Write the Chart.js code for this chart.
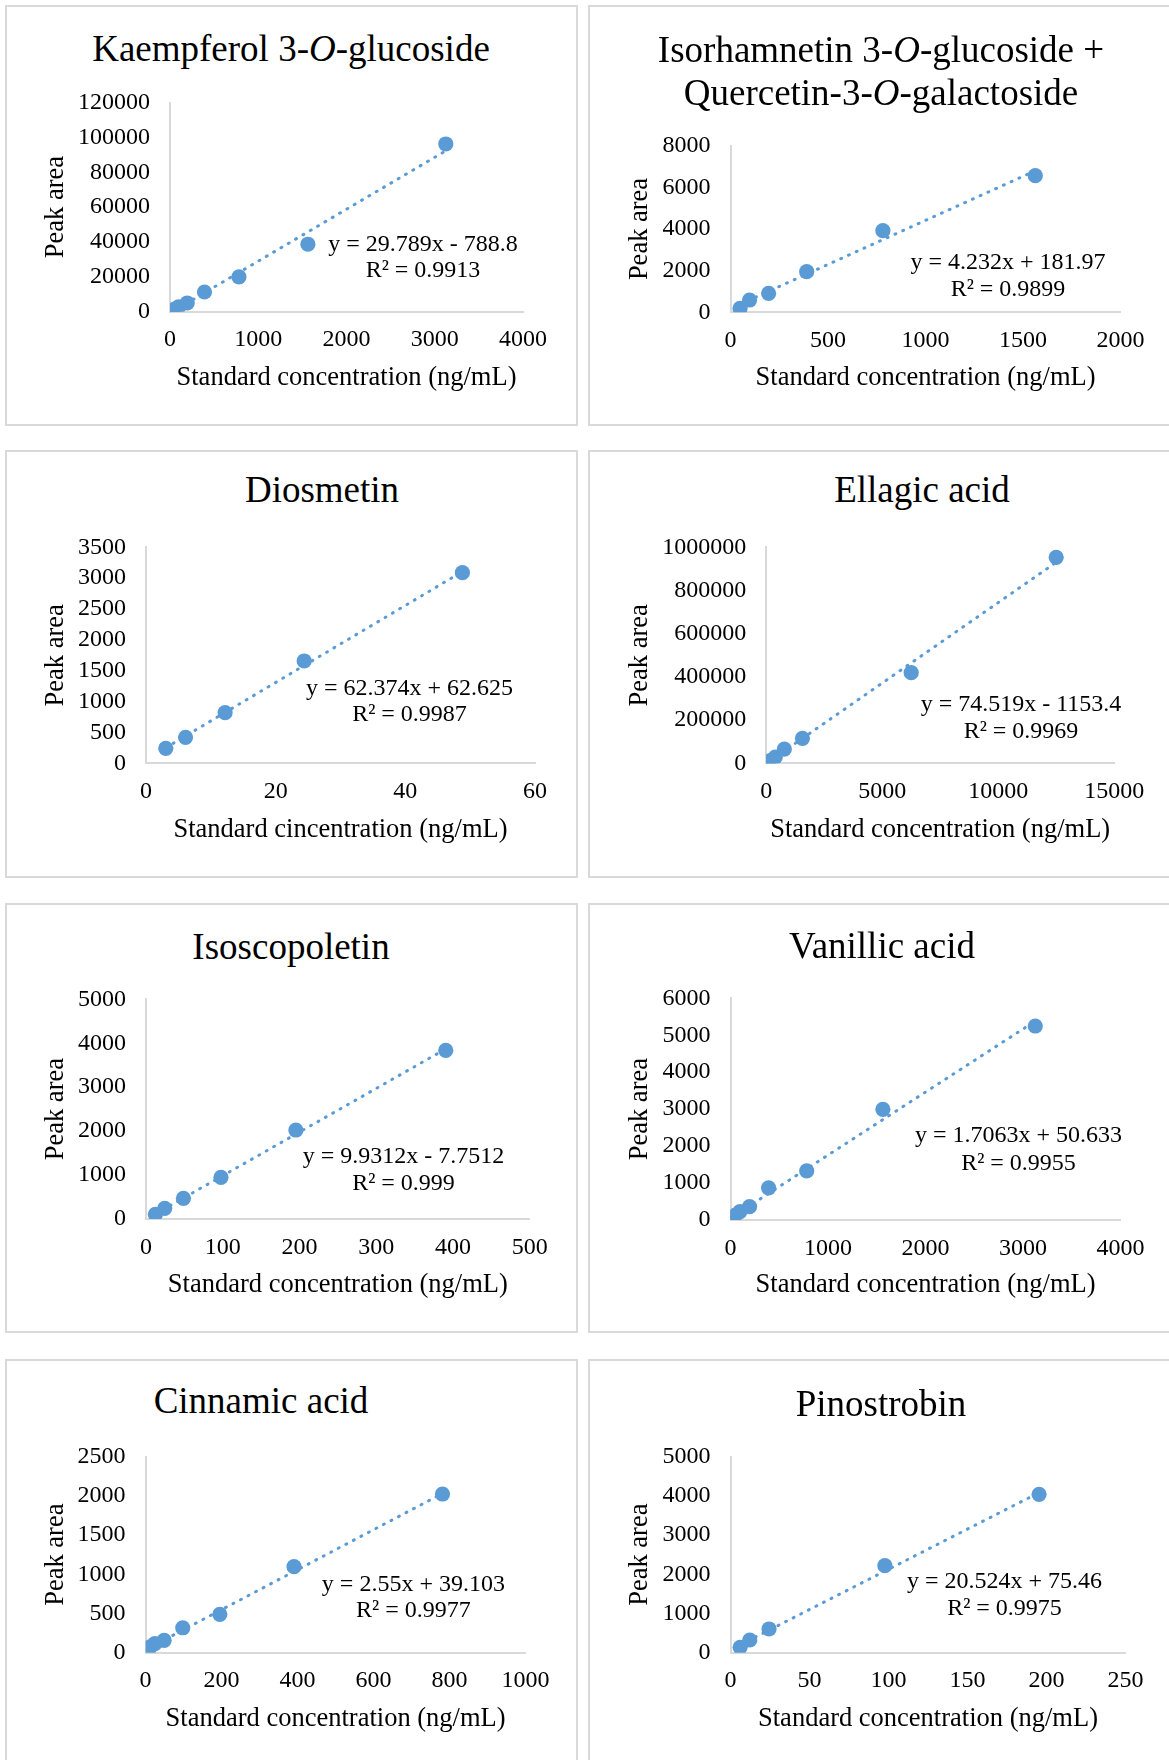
<!DOCTYPE html>
<html lang="en">
<head>
    <meta charset="UTF-8" />
    <title>Calibration curves</title>
    <script src="https://cdn.jsdelivr.net/npm/chart.js"></script>
    <style>
        html, body {
            margin: 0;
            padding: 0;
            background: #fff;
            overflow: hidden;
        }

        #page {
            position: relative;
            width: 1169px;
            height: 1760px;
            overflow: hidden;
            font-family: 'Liberation Serif', 'Times New Roman', serif;
        }

        .panel {
            position: absolute;
            box-sizing: border-box;
            border: 2px solid #d9d9d9;
        }

        .title {
            position: absolute;
            width: 640px;
            text-align: center;
            font-size: 37px;
            line-height: 43px;
            color: #000;
            white-space: nowrap;
        }

        canvas {
            position: absolute;
        }
    </style>
</head>
<body>

<div id="page"></div>

<script>
    // ---- data ----
    const titles = [
        'Kaempferol 3-<i>O</i>-glucoside',
        'Isorhamnetin 3-<i>O</i>-glucoside +<br>Quercetin-3-<i>O</i>-galactoside',
        'Diosmetin',
        'Ellagic acid',
        'Isoscopoletin',
        'Vanillic acid',
        'Cinnamic acid',
        'Pinostrobin'
    ];
    const xTitles = [
        'Standard concentration (ng/mL)',
        'Standard concentration (ng/mL)',
        'Standard cincentration (ng/mL)',
        'Standard concentration (ng/mL)',
        'Standard concentration (ng/mL)',
        'Standard concentration (ng/mL)',
        'Standard concentration (ng/mL)',
        'Standard concentration (ng/mL)'
    ];
    const yTitle = 'Peak area';

    const kaempferolX = [12.2, 24.4, 48.8, 97.7, 195.3, 390.6, 781.3, 1562.5, 3125];
    const kaempferolY = [300, 700, 1400, 2800, 5000, 11300, 20000, 38700, 96200];
    const isorhamnetinX = [48.8, 97.7, 195.3, 390.6, 781.3, 1562.5];
    const isorhamnetinY = [190, 590, 910, 1950, 3920, 6560];
    const diosmetinX = [3.05, 6.1, 12.2, 24.4, 48.8];
    const diosmetinY = [243, 421, 820, 1658, 3089];
    const ellagicX = [48.8, 97.7, 195.3, 390.6, 781.3, 1562.5, 6250, 12500];
    const ellagicY = [3000, 6500, 14000, 29000, 66000, 115700, 419500, 953700];
    const isoscopoletinX = [12.2, 24.4, 48.8, 97.7, 195.3, 390.6];
    const isoscopoletinY = [107, 243, 471, 949, 2025, 3839];
    const vanillicX = [12.2, 24.4, 48.8, 97.7, 195.3, 390.6, 781.3, 1562.5, 3125];
    const vanillicY = [40, 80, 130, 230, 360, 870, 1330, 2996, 5250];
    const cinnamicX = [12.2, 24.4, 48.8, 97.7, 195.3, 390.6, 781.3];
    const cinnamicY = [75, 115, 158, 318, 490, 1097, 2024];
    const pinostrobinX = [6.1, 12.2, 24.4, 97.7, 195.3];
    const pinostrobinY = [138, 324, 605, 2219, 4041];

    const slopes = [29.789, 4.232, 62.374, 74.519, 9.9312, 1.7063, 2.55, 20.524];
    const intercepts = [-788.8, 181.97, 62.625, -1153.4, -7.7512, 50.633, 39.103, 75.46];
    const equations = [
        ['y = 29.789x - 788.8', 'R² = 0.9913'],
        ['y = 4.232x + 181.97', 'R² = 0.9899'],
        ['y = 62.374x + 62.625', 'R² = 0.9987'],
        ['y = 74.519x - 1153.4', 'R² = 0.9969'],
        ['y = 9.9312x - 7.7512', 'R² = 0.999'],
        ['y = 1.7063x + 50.633', 'R² = 0.9955'],
        ['y = 2.55x + 39.103', 'R² = 0.9977'],
        ['y = 20.524x + 75.46', 'R² = 0.9975']
    ];

    const xMax = [4000, 2000, 60, 15000, 500, 4000, 1000, 250];
    const xStep = [1000, 500, 20, 5000, 100, 1000, 200, 50];
    const yMax = [120000, 8000, 3500, 1000000, 5000, 6000, 2500, 5000];
    const yStep = [20000, 2000, 500, 200000, 1000, 1000, 500, 1000];

    const seriesX = [kaempferolX, isorhamnetinX, diosmetinX, ellagicX, isoscopoletinX, vanillicX, cinnamicX, pinostrobinX];
    const seriesY = [kaempferolY, isorhamnetinY, diosmetinY, ellagicY, isoscopoletinY, vanillicY, cinnamicY, pinostrobinY];

    // ---- layout (page pixels) ----
    const panelBox = [
        [5, 5, 573, 421], [588, 5, 590, 421],
        [5, 450, 573, 428], [588, 450, 590, 428],
        [5, 903, 573, 430], [588, 903, 590, 430],
        [5, 1359, 573, 440], [588, 1359, 590, 440]
    ];
    const plotBox = [
        [170, 102.5, 523, 311.7], [730.5, 145.7, 1120.6, 312.3],
        [146, 547.3, 535, 763.3], [766.2, 547.3, 1114.2, 763.3],
        [146, 999.3, 529.7, 1219], [730.5, 998.3, 1120.6, 1220],
        [145.6, 1456.7, 525.6, 1652.7], [730.5, 1456.7, 1125.5, 1652.7]
    ];
    const titleX = [291, 881, 322, 922, 291, 882, 261, 881];
    const titleCapY = [49, 50, 489.5, 490, 946.7, 945.5, 1400.4, 1403.5];
    const xTitleY = [378, 378.5, 830, 830, 1285, 1285.5, 1719, 1719];
    const yTitleX = [56, 640, 56, 640, 56, 640, 56, 640];
    const eqPos = [
        [423, 245, 271], [1008, 263, 290],
        [409.5, 688.3, 715], [1021, 705, 731.7],
        [403.5, 1156.7, 1184], [1018.5, 1136, 1163.3],
        [413.4, 1585, 1610.7], [1004.5, 1581.7, 1608.3]
    ];

    const BLUE = '#5B9BD5';
    const AXIS = '#d9d9d9';
    const FONT = "'Liberation Serif', 'Times New Roman', serif";
    Chart.defaults.font.family = FONT;
    Chart.defaults.color = '#000';

    const page = document.getElementById('page');

    const equationLabel = {
        id: 'equationLabel',
        afterDraw(chart, args, opts) {
            const ctx = chart.ctx;
            ctx.save();
            ctx.font = '24px ' + FONT;
            ctx.fillStyle = '#000';
            ctx.textAlign = 'center';
            ctx.textBaseline = 'middle';
            ctx.fillText(opts.lines[0], opts.x, opts.y1);
            ctx.fillText(opts.lines[1], opts.x, opts.y2);
            ctx.restore();
        }
    };

    function makeChart(i) {
        const [L, T, W, H] = panelBox[i];
        const [pl, pt, pr, pb] = plotBox[i];

        const panel = document.createElement('div');
        panel.className = 'panel';
        panel.style.left = L + 'px';
        panel.style.top = T + 'px';
        panel.style.width = W + 'px';
        panel.style.height = H + 'px';
        page.appendChild(panel);

        const t = document.createElement('div');
        t.className = 'title';
        t.innerHTML = titles[i];
        t.style.left = (titleX[i] - 320) + 'px';
        t.style.top = (titleCapY[i] - 21.75) + 'px';
        page.appendChild(t);

        const canvas = document.createElement('canvas');
        canvas.width = W;
        canvas.height = H;
        canvas.style.left = L + 'px';
        canvas.style.top = T + 'px';
        canvas.style.width = W + 'px';
        canvas.style.height = H + 'px';
        page.appendChild(canvas);

        const xs = seriesX[i], ys = seriesY[i];
        const points = xs.map((x, k) => ({ x: x, y: ys[k] }));
        const x0 = Math.min(...xs), x1 = Math.max(...xs);
        const trend = [x0, x1].map(x => ({ x: x, y: slopes[i] * x + intercepts[i] }));

        const left = pl - L;
        const top = pt - T;
        const right = W - (pr - L);
        const bottom = pb - T;
        const xLine = 26.5 * 1.2;

        new Chart(canvas.getContext('2d'), {
            type: 'scatter',
            data: {
                datasets: [
                    {
                        data: points,
                        backgroundColor: BLUE,
                        borderWidth: 0,
                        pointRadius: 7.6,
                        pointHoverRadius: 7.6
                    },
                    {
                        type: 'line',
                        data: trend,
                        showLine: true,
                        borderColor: BLUE,
                        borderWidth: 3,
                        borderDash: [1, 7.5],
                        borderCapStyle: 'round',
                        pointRadius: 0,
                        fill: false
                    }
                ]
            },
            options: {
                responsive: false,
                animation: false,
                events: [],
                layout: { padding: { left: 0, top: top, right: right, bottom: 0 } },
                plugins: {
                    legend: { display: false },
                    tooltip: { enabled: false },
                    title: { display: false },
                    equationLabel: {
                        lines: equations[i],
                        x: eqPos[i][0] - L,
                        y1: eqPos[i][1] - T,
                        y2: eqPos[i][2] - T
                    }
                },
                scales: {
                    x: {
                        type: 'linear',
                        position: 'bottom',
                        min: 0,
                        max: xMax[i],
                        grid: { display: false, drawTicks: false },
                        border: { display: true, color: AXIS, width: 2 },
                        ticks: {
                            stepSize: xStep[i],
                            autoSkip: false,
                            maxRotation: 0,
                            padding: 14,
                            font: { size: 24 },
                            callback: v => String(v)
                        },
                        title: {
                            display: true,
                            text: xTitles[i],
                            font: { size: 26.5 },
                            padding: { top: 0, bottom: H - (xTitleY[i] - T) - xLine / 2 }
                        },
                        afterFit: s => { s.height = H - bottom; }
                    },
                    y: {
                        type: 'linear',
                        min: 0,
                        max: yMax[i],
                        grid: { display: false, drawTicks: false },
                        border: { display: true, color: AXIS, width: 2 },
                        ticks: {
                            stepSize: yStep[i],
                            autoSkip: false,
                            padding: 20,
                            font: { size: 24 },
                            callback: v => String(v)
                        },
                        title: {
                            display: true,
                            text: yTitle,
                            font: { size: 26.5 },
                            padding: { top: (yTitleX[i] - L) - xLine / 2, bottom: 0 }
                        },
                        afterFit: s => { s.width = left; }
                    }
                }
            },
            plugins: [equationLabel]
        });
    }

    for (let i = 0; i < 8; i++) makeChart(i);
</script>

</body>
</html>
